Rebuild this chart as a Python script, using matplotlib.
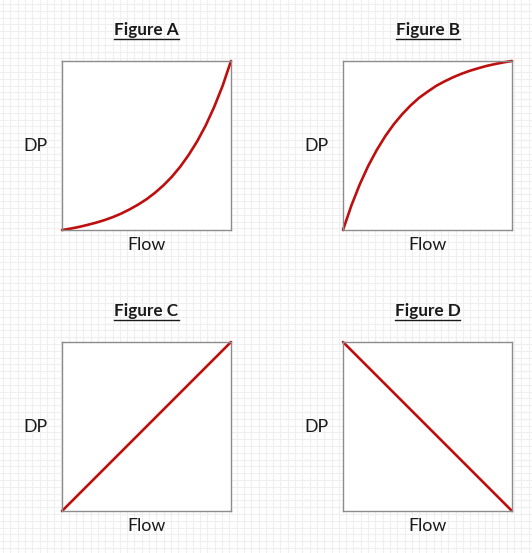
import matplotlib
matplotlib.use("Agg")
import matplotlib.pyplot as plt
from matplotlib.lines import Line2D
import numpy as np

# ---- data ----
titles = ["Figure A", "Figure B", "Figure C", "Figure D"]
xlabel = "Flow"
ylabel = "DP"
flow = [0.0, 0.05, 0.1, 0.15, 0.2, 0.25, 0.3, 0.35, 0.4, 0.45, 0.5,
        0.55, 0.6, 0.65, 0.7, 0.75, 0.8, 0.85, 0.9, 0.95, 1.0]
dp_a = [0.0, 0.008, 0.018, 0.030, 0.043, 0.058, 0.076, 0.097, 0.122, 0.150, 0.182,
        0.220, 0.264, 0.315, 0.375, 0.445, 0.525, 0.618, 0.727, 0.852, 1.0]
dp_b = [0.0, 0.146, 0.272, 0.381, 0.474, 0.555, 0.625, 0.685, 0.737, 0.782, 0.818,
        0.852, 0.879, 0.903, 0.924, 0.942, 0.957, 0.971, 0.982, 0.992, 1.0]
flow_lin = [0.0, 1.0]
dp_c = [0.0, 1.0]
dp_d = [1.0, 0.0]

W, H = 532, 553
fig = plt.figure(figsize=(W / 100, H / 100), dpi=100)
fig.patch.set_facecolor("white")
plt.rcParams["font.family"] = ["Lato", "DejaVu Sans"]

# background grid (spreadsheet look)
bg = fig.add_axes([0, 0, 1, 1], zorder=0)
bg.set_xlim(0, W)
bg.set_ylim(H, 0)
bg.axis("off")
for gx in np.arange(3, W, 7.3):
    bg.axvline(gx, color="#efefef", lw=0.8)
for gy in np.arange(4, H, 6.8):
    bg.axhline(gy, color="#efefef", lw=0.8)

panels = [
    (62, 61, flow, dp_a),
    (343, 61, flow, dp_b),
    (62, 342, flow_lin, dp_c),
    (343, 342, flow_lin, dp_d),
]
size = 169
red = "#BE0E0E"

fig.canvas.draw()
renderer = fig.canvas.get_renderer()

for (px, py, xs, ys), title in zip(panels, titles):
    ax = fig.add_axes([px / W, (H - py - size) / H, size / W, size / H], zorder=2)
    ax.set_facecolor("white")
    ax.plot(xs, ys, color=red, lw=1.9, solid_capstyle="round", clip_on=False)
    ax.set_xlim(0, 1)
    ax.set_ylim(0, 1)
    ax.set_xticks([])
    ax.set_yticks([])
    for s in ax.spines.values():
        s.set_color("#8c8c8c")
        s.set_linewidth(1.0)
    cx = (px + size / 2) / W
    # title
    t = fig.text(cx, 1 - (py - 31) / H, title, ha="center", va="center",
                 fontsize=12.3, fontweight="bold", color="#1a1a1a", zorder=3)
    bb = t.get_window_extent(renderer=renderer)
    x0, x1 = bb.x0 / W, bb.x1 / W
    yu = 1 - (py - 22) / H
    fig.add_artist(Line2D([x0, x1], [yu, yu], transform=fig.transFigure,
                          color="#1a1a1a", lw=1.0, zorder=3))
    # axis labels
    fig.text(cx, 1 - (py + size + 15) / H, xlabel, ha="center", va="center",
             fontsize=12.8, color="#1a1a1a", zorder=3)
    fig.text((px - 27) / W, 1 - (py + 85) / H, ylabel, ha="center", va="center",
             fontsize=12.8, color="#1a1a1a", zorder=3)

fig.savefig("out.png", dpi=100, facecolor="white")
